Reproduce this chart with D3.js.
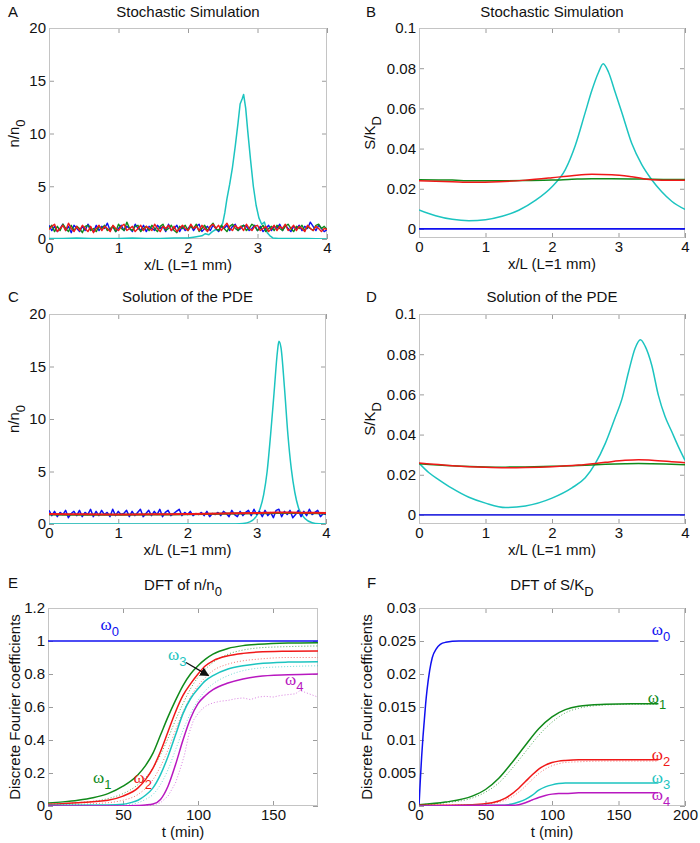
<!DOCTYPE html>
<html><head><meta charset="utf-8">
<script src="https://cdn.jsdelivr.net/npm/d3@7"></script>
<style>
body{margin:0;background:#fff}
svg{display:block}
text{font-family:"Liberation Sans",Arial,sans-serif;font-size:15px;fill:#111}
</style></head><body>
<svg id="fig" width="700" height="843"></svg>
<script>
// ---------------- DATA ----------------
// Panel A: stochastic simulation, n/n0 (101 samples on x in [0,4])
const aBlue = [1.3,0.8,1.2,0.7,1.0,1.4,0.8,1.2,0.6,1.3,
 1.0,0.7,1.2,0.8,1.4,1.0,0.7,1.3,0.8,1.2,
 1.0,1.5,0.8,1.2,0.7,1.0,1.3,0.8,1.2,1.0,
 0.7,1.4,1.0,0.8,1.3,0.7,1.2,1.0,0.8,1.3,
 1.0,1.2,0.7,1.4,0.8,1.0,1.3,0.7,1.2,0.8,
 1.0,1.3,0.8,1.2,1.4,0.7,1.0,1.2,0.8,1.3,
 1.0,0.7,1.2,1.0,1.3,0.8,1.2,1.4,0.8,1.0,
 1.3,1.2,0.8,1.0,1.3,0.8,1.2,0.7,1.0,1.3,
 0.8,1.2,1.0,1.4,0.8,1.3,1.0,0.7,1.2,1.0,
 1.3,0.8,1.2,1.0,1.6,1.2,0.8,1.3,1.0,0.7,0.9];
const aGreen = [1.0,1.3,0.7,1.2,0.8,1.4,1.0,0.7,1.3,0.8,
 1.2,1.0,0.6,1.2,1.3,0.8,1.0,0.7,1.2,1.0,
 1.3,0.8,1.0,1.2,0.7,1.4,1.0,0.8,1.6,1.0,
 0.8,1.2,1.3,0.7,1.0,1.2,0.8,1.3,1.0,0.7,
 1.2,1.4,0.8,1.0,1.3,0.8,0.6,1.2,1.0,1.3,
 0.8,1.2,1.0,1.4,0.7,1.0,1.3,0.8,1.2,1.5,
 1.0,0.8,1.3,1.0,0.7,1.2,1.4,1.0,0.8,1.2,
 1.3,0.8,1.0,1.4,1.2,0.8,1.0,1.3,0.7,1.0,
 1.2,0.8,1.3,1.0,0.8,1.2,1.4,1.0,0.7,1.2,
 1.0,1.3,0.8,1.2,1.0,0.8,1.3,1.4,1.0,1.2,0.9];
const aRed = [0.9,1.2,1.4,0.7,1.0,1.3,0.8,1.5,1.0,0.7,
 1.2,0.8,1.3,1.0,0.7,1.2,0.6,1.0,1.3,0.8,
 1.2,1.0,0.7,1.3,1.0,0.8,1.2,1.4,0.8,1.0,
 1.2,0.7,1.0,1.3,0.8,1.2,1.0,0.8,1.4,1.0,
 0.7,1.2,1.0,1.3,0.8,1.2,0.7,1.0,1.3,1.0,
 0.8,1.4,1.0,1.2,0.8,1.3,1.0,0.7,1.2,1.4,
 1.0,1.3,0.8,1.2,1.5,1.0,0.8,1.3,1.0,1.2,
 0.8,1.4,1.0,0.8,1.2,1.3,0.8,1.0,1.2,0.7,
 1.0,1.3,0.8,1.2,1.0,1.4,0.8,1.0,1.3,0.8,
 1.2,1.0,0.7,1.3,1.0,0.8,1.2,1.0,0.7,1.0,0.9];
const aCyanX = [0,0.2,0.4,0.6,0.8,1.0,1.2,1.4,1.6,1.8,2.0,2.1,2.2,2.25,2.3,2.35,2.4,2.45,2.5,2.53,2.56,2.6,2.64,2.68,2.72,2.75,2.78,2.8,2.83,2.86,2.9,2.94,2.98,3.02,3.06,3.1,3.14,3.18,3.22,3.3,3.5,3.7,4.0];
const aCyanY = [0.05,0.05,0.1,0.05,0.05,0.05,0.1,0.05,0.05,0.1,0.1,0.2,0.3,0.5,0.4,0.7,0.9,0.8,1.5,2.5,3.8,5.2,6.8,8.8,11,12.8,13.3,13.7,12.4,10.2,7.5,5.0,3.2,2.0,1.4,1.6,0.6,0.3,0.1,0.05,0.05,0.05,0.0];

// Panel B: stochastic simulation, S/KD
const bCyanX = [0,0.25,0.5,0.75,1,1.25,1.5,1.75,2,2.2,2.35,2.5,2.6,2.7,2.77,2.85,2.95,3.05,3.2,3.35,3.5,3.65,3.8,4];
const bCyanY = [0.0095,0.0066,0.0048,0.0041,0.0046,0.0063,0.0093,0.0142,0.021,0.0295,0.0415,0.058,0.069,0.078,0.0822,0.078,0.068,0.058,0.0425,0.032,0.0245,0.0185,0.0138,0.0097];
const bFlatX = [0,0.5,0.8,1.2,1.6,2,2.3,2.6,2.9,3.2,3.5,3.8,4];
const bRedY = [0.024,0.0235,0.0232,0.0235,0.0243,0.0255,0.0265,0.0272,0.027,0.026,0.0245,0.0242,0.0242];
const bGreenY = [0.0245,0.0243,0.024,0.024,0.0241,0.0243,0.0247,0.025,0.025,0.0249,0.0247,0.0246,0.0246];
const blueZeroX = [0,4];
const blueZeroY = [0,0];

// Panel C: PDE solution, n/n0
const cBlue = [1.3,0.8,1.2,0.7,1.1,0.9,1.3,0.6,1.0,1.2,
 0.8,1.3,0.7,1.1,0.9,1.4,0.7,1.2,0.8,1.3,
 0.9,1.1,0.7,1.4,0.8,1.2,0.9,1.0,1.3,0.7,
 1.2,0.8,1.1,1.4,0.7,1.0,1.3,0.8,1.2,0.9,
 1.4,0.7,1.1,1.3,0.8,1.0,1.2,1.4,0.8,1.1,
 0.9,1.2,0.8,1.0,0.9,1.1,0.8,1.2,0.7,1.0,
 0.9,1.1,0.8,1.2,1.0,0.7,1.3,0.9,0.7,1.2,
 0.8,1.1,1.3,0.8,1.4,0.9,1.2,0.7,1.3,0.8,
 1.1,0.6,1.3,1.4,0.7,1.2,0.9,1.3,0.6,0.9,
 1.3,0.7,1.2,0.8,1.4,0.9,1.1,1.3,0.7,1.0,0.9];
const cSmoothX = [0,0.5,1,1.5,2,2.5,3,3.3,3.6,4];
const cRedY = [0.95,0.92,0.9,0.92,0.95,1.0,1.05,1.1,1.08,1.05];
const cGreenY = [0.9,0.88,0.87,0.9,0.93,0.98,1.02,1.05,1.04,1.0];
const cCyanX = [0,2.6,2.8,2.9,3.0,3.05,3.1,3.15,3.2,3.25,3.3,3.32,3.35,3.4,3.45,3.5,3.55,3.6,3.7,3.8,3.9,4];
const cCyanY = [0,0,0.05,0.2,0.8,1.5,2.8,5,8.5,12.5,16.5,17.4,16.8,13,8.5,5.2,3,1.6,0.5,0.12,0.02,0];

// Panel D: PDE solution, S/KD
const dCyanX = [0,0.15,0.3,0.5,0.75,1,1.3,1.6,2,2.3,2.5,2.65,2.8,2.95,3.05,3.15,3.25,3.33,3.4,3.5,3.6,3.7,3.8,3.9,4];
const dCyanY = [0.0258,0.021,0.0175,0.0132,0.0088,0.0059,0.0037,0.0045,0.0084,0.0135,0.0185,0.0255,0.0355,0.0485,0.0575,0.071,0.083,0.0872,0.084,0.0745,0.0595,0.049,0.0415,0.034,0.0272];
const dFlatX = [0,0.5,1,1.3,1.6,2,2.4,2.8,3.1,3.3,3.5,3.8,4];
const dRedY = [0.0258,0.0245,0.0237,0.0235,0.0236,0.024,0.0248,0.0262,0.0272,0.0275,0.0272,0.0265,0.026];
const dGreenY = [0.0255,0.0245,0.0239,0.0238,0.0239,0.0242,0.0246,0.0252,0.0255,0.0256,0.0255,0.0252,0.025];

// Panel E: DFT of n/n0 (t in minutes)
const eBlueT = [0,180], eBlueY = [1,1];
const eGreenT = [0,10,20,30,40,50,60,65,70,75,80,85,90,95,100,105,110,120,130,140,160,180];
const eGreenY = [0.018,0.025,0.035,0.05,0.075,0.12,0.19,0.245,0.32,0.43,0.54,0.64,0.73,0.8,0.85,0.89,0.92,0.955,0.972,0.98,0.988,0.99];
const eRedT = [0,20,40,50,60,65,70,75,80,85,90,95,100,105,110,120,130,140,160,180];
const eRedY = [0.01,0.02,0.035,0.06,0.11,0.16,0.23,0.33,0.45,0.57,0.67,0.74,0.8,0.85,0.88,0.91,0.925,0.933,0.938,0.94];
const eCyanT = [0,40,50,55,60,65,70,75,80,85,90,95,100,105,110,120,130,140,160,180];
const eCyanY = [0.005,0.006,0.01,0.02,0.035,0.065,0.11,0.19,0.3,0.43,0.56,0.65,0.71,0.76,0.79,0.83,0.85,0.862,0.872,0.875];
const eMagT = [0,50,60,65,70,75,80,85,90,95,100,105,110,120,130,140,160,180];
const eMagY = [0.0,0.0,0.003,0.006,0.012,0.04,0.12,0.25,0.4,0.53,0.62,0.67,0.705,0.745,0.77,0.785,0.795,0.8];
const eGreenDotT = [0,20,40,50,60,70,75,80,85,90,95,100,105,110,120,130,140,160,180];
const eGreenDotY = [0.01,0.02,0.045,0.075,0.13,0.23,0.31,0.41,0.52,0.62,0.71,0.78,0.83,0.87,0.92,0.945,0.958,0.966,0.97];
const eRedDotT = [0,40,50,60,70,75,80,85,90,95,100,105,110,120,130,140,160,180];
const eRedDotY = [0.005,0.02,0.035,0.07,0.16,0.24,0.34,0.46,0.57,0.66,0.73,0.78,0.82,0.86,0.88,0.89,0.9,0.9];
const eCyanDotT = [0,50,60,65,70,75,80,85,90,95,100,105,110,120,130,140,160,180];
const eCyanDotY = [0.0,0.005,0.02,0.04,0.07,0.13,0.22,0.34,0.46,0.56,0.64,0.7,0.74,0.79,0.82,0.835,0.845,0.85];
const eMagDotT = [0,60,70,75,80,85,88,91,94,97,100,103,106,110,115,120,125,130,135,140,145,150,155,160,165,168,171,174,177,180];
const eMagDotY = [0,0,0.005,0.02,0.06,0.14,0.22,0.31,0.44,0.52,0.56,0.59,0.61,0.625,0.635,0.64,0.65,0.655,0.645,0.66,0.665,0.66,0.67,0.675,0.68,0.7,0.69,0.68,0.67,0.66];

// Panel F: DFT of S/KD
const fBlueT = [0,1,2,3,4,5,6,8,10,13,16,20,30,180];
const fBlueY = [0,0.004,0.0075,0.0105,0.013,0.0155,0.0175,0.0205,0.0225,0.0238,0.0245,0.0248,0.025,0.025];
const fGreenT = [0,20,40,50,60,70,80,90,100,110,120,140,160,180];
const fGreenY = [0.0002,0.0006,0.0015,0.0025,0.0042,0.0066,0.0092,0.0117,0.0135,0.0146,0.0151,0.0154,0.0155,0.0155];
const fGreenDotY = [0.0002,0.0005,0.0012,0.0021,0.0035,0.0057,0.0082,0.0107,0.0127,0.0141,0.0148,0.0153,0.0154,0.0154];
const fRedT = [0,40,55,65,75,80,85,90,95,100,105,110,120,140,180];
const fRedY = [0.0001,0.0002,0.0005,0.0012,0.0027,0.0037,0.0047,0.0056,0.0062,0.0066,0.0068,0.0069,0.007,0.007,0.007];
const fRedDotY = [0.0001,0.0002,0.0004,0.0009,0.0021,0.003,0.004,0.0049,0.0056,0.0061,0.0064,0.0066,0.0067,0.0068,0.0068];
const fCyanT = [0,60,70,75,80,85,90,95,100,105,110,120,180];
const fCyanY = [0,0.0001,0.0003,0.0006,0.001,0.0016,0.0024,0.0029,0.0032,0.0034,0.0035,0.0035,0.0035];
const fMagT = [0,70,75,80,85,90,95,100,105,110,120,180];
const fMagY = [0,0.0001,0.0002,0.0005,0.0009,0.0013,0.0016,0.0018,0.0019,0.0019,0.002,0.002];

// Tick values
const xTicksSpace = [0,1,2,3,4];
const yTicksN = [0,5,10,15,20];
const yTicksS = [0,0.02,0.04,0.06,0.08,0.1];
const xTicksE = [0,50,100,150];
const yTicksE = [0,0.2,0.4,0.6,0.8,1,1.2];
const xTicksF = [0,50,100,150,200];
const yTicksF = [0,0.005,0.01,0.015,0.02,0.025,0.03];

// ---------------- DRAWING ----------------
const C = {blue:"#1010f0", green:"#108a1a", red:"#f01818", cyan:"#1cc4c0", mag:"#b818c0"};
const svg = d3.select("#fig");
const fmt = d3.format("~g");
const zip = (xs, ys) => xs.map((v,i)=>[v, ys[i]]);
const idx = (ys, x0, x1) => ys.map((v,i)=>[x0 + (x1-x0)*i/(ys.length-1), v]);
let clipId = 0;

function panel(o){
  const x = d3.scaleLinear().domain(o.xDomain).range([o.l, o.r]);
  const y = d3.scaleLinear().domain(o.yDomain).range([o.b, o.t]);
  const g = svg.append("g");
  const id = "clip" + (clipId++);
  g.append("clipPath").attr("id", id).append("rect")
    .attr("x", o.l).attr("y", o.t).attr("width", o.r-o.l).attr("height", o.b-o.t);
  const ax = (gen, tr) => {
    const a = g.append("g").attr("transform", tr).call(gen);
    a.attr("font-family", null).attr("font-size", null);
    a.select(".domain").remove();
    a.selectAll(".tick line").attr("stroke", "#9c9c9c");
    a.selectAll(".tick text").attr("fill", "#111");
    return a;
  };
  ax(d3.axisBottom(x).tickValues(o.xTicks).tickFormat(fmt).tickSizeInner(-5).tickSizeOuter(0).tickPadding(3), `translate(0,${o.b})`);
  ax(d3.axisTop(x).tickValues(o.xTicks).tickFormat("").tickSizeInner(-5).tickSizeOuter(0), `translate(0,${o.t})`);
  ax(d3.axisLeft(y).tickValues(o.yTicks).tickFormat(fmt).tickSizeInner(-5).tickSizeOuter(0).tickPadding(3), `translate(${o.l},0)`);
  ax(d3.axisRight(y).tickValues(o.yTicks).tickFormat("").tickSizeInner(-5).tickSizeOuter(0), `translate(${o.r},0)`);
  g.append("rect").attr("x", o.l+0.5).attr("y", o.t+0.5).attr("width", o.r-o.l-1).attr("height", o.b-o.t-1)
    .attr("fill","none").attr("stroke","#c4c4c4").attr("stroke-width",1);

  const plot = g.append("g").attr("clip-path", `url(#${id})`);
  o.series.forEach(s => {
    const line = d3.line().x(d=>x(d[0])).y(d=>y(d[1]))
      .curve(s.smooth ? d3.curveMonotoneX : d3.curveLinear);
    plot.append("path").attr("d", line(s.data)).attr("fill","none")
      .attr("stroke", s.color).attr("stroke-width", s.w || 1.5)
      .attr("stroke-dasharray", s.dash || null)
      .attr("stroke-opacity", s.op || 1)
      .attr("stroke-linejoin","round");
  });

  // panel letter
  g.append("text").attr("x", o.letterX).attr("y", o.titleY - (o.letterDy||0)).text(o.letter);
  // title
  const t = g.append("text").attr("x", (o.l+o.r)/2).attr("y", o.titleY).attr("text-anchor","middle");
  t.append("tspan").text(o.title[0]);
  if (o.title[1]) t.append("tspan").attr("dy", 6).attr("font-size", 13).text(o.title[1]);
  // x label
  g.append("text").attr("x", (o.l+o.r)/2).attr("y", o.b + o.xlabDy).attr("text-anchor","middle").text(o.xlabel);
  // y label
  const yl = g.append("text").attr("transform", `translate(${o.l - o.ylabDx},${(o.t+o.b)/2}) rotate(-90)`)
    .attr("text-anchor","middle");
  yl.append("tspan").text(o.ylabel[0]);
  if (o.ylabel[1]) yl.append("tspan").attr("dy", 6).attr("font-size", 13).text(o.ylabel[1]);
  return {x, y, g};
}

function omega(p, tx, ty, sub, color){
  const t = p.g.append("text").attr("x", p.x(tx)).attr("y", p.y(ty)).attr("fill", color);
  t.append("tspan").attr("font-family","'Liberation Serif','Times New Roman',serif").attr("font-size",17).attr("fill", color).text("ω");
  t.append("tspan").attr("dy", 6).attr("font-size", 13).attr("fill", color).text(sub);
}

// A
panel({l:49, r:327, t:28, b:239, xDomain:[0,4], yDomain:[0,20], xTicks:xTicksSpace, yTicks:yTicksN,
  letter:"A", letterX:8, titleY:17, title:["Stochastic Simulation"], xlabel:"x/L (L=1 mm)", xlabDy:31,
  ylabel:["n/n","0"], ylabDx:30,
  series:[
    {data:zip(aCyanX,aCyanY), color:C.cyan},
    {data:idx(aBlue,0,4), color:C.blue, w:1.4},
    {data:idx(aGreen,0,4), color:C.green, w:1.4},
    {data:idx(aRed,0,4), color:C.red, w:1.4}
  ]});

// B
panel({l:419, r:685, t:28, b:238, xDomain:[0,4], yDomain:[-0.0045,0.1], xTicks:xTicksSpace, yTicks:yTicksS,
  letter:"B", letterX:366, titleY:17, title:["Stochastic Simulation"], xlabel:"x/L (L=1 mm)", xlabDy:31,
  ylabel:["S/K","D"], ylabDx:44,
  series:[
    {data:zip(blueZeroX,blueZeroY), color:C.blue, w:1.8},
    {data:zip(bCyanX,bCyanY), color:C.cyan, smooth:true},
    {data:zip(bFlatX,bGreenY), color:C.green, smooth:true},
    {data:zip(bFlatX,bRedY), color:C.red, smooth:true}
  ]});

// C
panel({l:49, r:326, t:314, b:524, xDomain:[0,4], yDomain:[0,20], xTicks:xTicksSpace, yTicks:yTicksN,
  letter:"C", letterX:8, titleY:302, title:["Solution of the PDE"], xlabel:"x/L (L=1 mm)", xlabDy:31,
  ylabel:["n/n","0"], ylabDx:30,
  series:[
    {data:zip(cCyanX,cCyanY), color:C.cyan, smooth:true},
    {data:idx(cBlue,0,4), color:C.blue, w:1.5},
    {data:zip(cSmoothX,cGreenY), color:C.green, smooth:true, w:2},
    {data:zip(cSmoothX,cRedY), color:C.red, smooth:true, w:2}
  ]});

// D
panel({l:419, r:685, t:314, b:524, xDomain:[0,4], yDomain:[-0.0045,0.1], xTicks:xTicksSpace, yTicks:yTicksS,
  letter:"D", letterX:366, titleY:302, title:["Solution of the PDE"], xlabel:"x/L (L=1 mm)", xlabDy:31,
  ylabel:["S/K","D"], ylabDx:44,
  series:[
    {data:zip(blueZeroX,blueZeroY), color:"#3030e0", w:1.8},
    {data:zip(dCyanX,dCyanY), color:C.cyan, smooth:true},
    {data:zip(dFlatX,dGreenY), color:C.green, smooth:true},
    {data:zip(dFlatX,dRedY), color:C.red, smooth:true}
  ]});

// E
const pE = panel({l:48, r:318, t:608, b:806, xDomain:[0,180], yDomain:[0,1.2], xTicks:xTicksE, yTicks:yTicksE,
  letter:"E", letterX:8, letterDy:2, titleY:590, title:["DFT of n/n","0"], xlabel:"t (min)", xlabDy:31,
  ylabel:["Discrete Fourier coefficients"], ylabDx:28,
  series:[
    {data:zip(eBlueT,eBlueY), color:C.blue},
    {data:zip(eGreenDotT,eGreenDotY), color:C.green, smooth:true, w:1, dash:"1,2", op:0.7},
    {data:zip(eRedDotT,eRedDotY), color:C.red, smooth:true, w:1, dash:"1,2", op:0.6},
    {data:zip(eCyanDotT,eCyanDotY), color:C.cyan, smooth:true, w:1, dash:"1,2", op:0.6},
    {data:zip(eMagDotT,eMagDotY), color:"#d060d8", w:1, dash:"1,2", op:0.8},
    {data:zip(eGreenT,eGreenY), color:C.green, smooth:true},
    {data:zip(eRedT,eRedY), color:C.red, smooth:true},
    {data:zip(eCyanT,eCyanY), color:C.cyan, smooth:true},
    {data:zip(eMagT,eMagY), color:C.mag, smooth:true}
  ]});
omega(pE, 35, 1.065, "0", C.blue);
omega(pE, 30, 0.14, "1", C.green);
omega(pE, 57, 0.14, "2", C.red);
omega(pE, 80, 0.885, "3", C.cyan);
omega(pE, 158, 0.735, "4", C.mag);
// arrow pointing at the omega_3 curve
const defs = svg.append("defs");
defs.append("marker").attr("id","arrowhead").attr("viewBox","0 0 10 10").attr("refX",9).attr("refY",5)
  .attr("markerWidth",7).attr("markerHeight",7).attr("orient","auto")
  .append("path").attr("d","M0,0 L10,5 L0,10 Z").attr("fill","#111");
pE.g.append("line").attr("x1", pE.x(92)).attr("y1", pE.y(0.87)).attr("x2", pE.x(107)).attr("y2", pE.y(0.79))
  .attr("stroke","#111").attr("stroke-width",1.3).attr("marker-end","url(#arrowhead)");

// F
const pF = panel({l:419, r:685, t:608, b:806, xDomain:[0,200], yDomain:[0,0.03], xTicks:xTicksF, yTicks:yTicksF,
  letter:"F", letterX:367, letterDy:2, titleY:590, title:["DFT of S/K","D"], xlabel:"t (min)", xlabDy:31,
  ylabel:["Discrete Fourier coefficients"], ylabDx:47,
  series:[
    {data:zip(fGreenT,fGreenDotY), color:C.green, smooth:true, w:1, dash:"1,2", op:0.7},
    {data:zip(fRedT,fRedDotY), color:C.red, smooth:true, w:1, dash:"1,2", op:0.6},
    {data:zip(fBlueT,fBlueY), color:C.blue, smooth:true},
    {data:zip(fGreenT,fGreenY), color:C.green, smooth:true},
    {data:zip(fRedT,fRedY), color:C.red, smooth:true},
    {data:zip(fCyanT,fCyanY), color:C.cyan, smooth:true},
    {data:zip(fMagT,fMagY), color:C.mag, smooth:true}
  ]});
omega(pF, 175, 0.0259, "0", C.blue);
omega(pF, 172, 0.0156, "1", C.green);
omega(pF, 175, 0.007, "2", C.red);
omega(pF, 175, 0.0035, "3", C.cyan);
omega(pF, 175, 0.0009, "4", C.mag);
</script>
</body></html>
